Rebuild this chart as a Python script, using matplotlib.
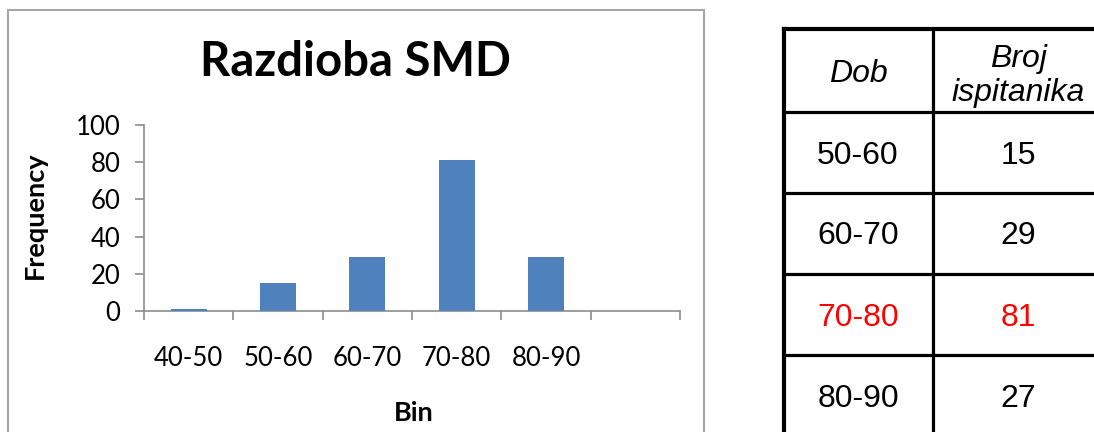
import matplotlib
matplotlib.use("Agg")
import matplotlib.pyplot as plt
import numpy as np

# ---- data ----
bins = ["40-50", "50-60", "60-70", "70-80", "80-90", ""]
frequency = [1, 15, 29, 81, 29, 0]
yticks = [0, 20, 40, 60, 80, 100]

table_header = ["Dob", "Broj\nispitanika"]
table_dob = ["50-60", "60-70", "70-80", "80-90"]
table_broj = [15, 29, 81, 27]
highlight_row = 2

W, H = 1094, 432
fig = plt.figure(figsize=(W / 100, H / 100), dpi=100)

# overlay in pixel coordinates for frame & table
ov = fig.add_axes([0, 0, 1, 1])
ov.set_xlim(0, W)
ov.set_ylim(H, 0)
ov.axis("off")

# chart frame
frame_col = "#a6a6a6"
ov.plot([8, 8, 704, 704], [440, 10, 10, 440], color=frame_col, lw=1.5, solid_joinstyle="miter")

# chart
bar_col = "#4f81bd"
axis_col = "#8c8c8c"
ax = fig.add_axes([144 / W, 1 - 311 / H, (680 - 144) / W, (311 - 125) / H])
x = np.arange(len(bins))
ax.bar(x, frequency, width=0.4, color=bar_col, zorder=3)
ax.set_xlim(-0.5, len(bins) - 0.5)
ax.set_ylim(0, 100)
for s in ["top", "right"]:
    ax.spines[s].set_visible(False)
for s in ["left", "bottom"]:
    ax.spines[s].set_color(axis_col)
    ax.spines[s].set_linewidth(1.2)
ax.set_yticks(yticks)
ax.set_yticklabels([str(v) for v in yticks], fontsize=18.5, family="Lato")
ax.tick_params(axis="y", length=6.5, width=1.2, color=axis_col, pad=10.5)
ax.set_xticks(np.arange(len(bins) + 1) - 0.5)
ax.set_xticklabels([])
ax.tick_params(axis="x", which="major", length=6.5, width=1.2, color=axis_col, direction="out")
ax.set_xticks(x, minor=True)
ax.set_xticklabels(bins, minor=True, fontsize=18.5, family="Lato")
ax.tick_params(axis="x", which="minor", length=0, pad=25)

fig.text(355 / W, 1 - 62 / H, "Razdioba SMD", ha="center", va="center",
         fontsize=34, fontweight="bold", family="Lato")
fig.text(35 / W, 1 - 215 / H, "Frequency", ha="center", va="center", rotation=90,
         fontsize=19.5, fontweight="bold", family="Lato")
fig.text(414 / W, 1 - 413 / H, "Bin", ha="center", va="center",
         fontsize=19.5, fontweight="bold", family="Lato")

# table
tx = [784, 933, 1100]
ty = [29, 112, 193, 274, 355, 440]
lw = 2.3
ov.plot([tx[0], tx[0]], [ty[0], ty[-1]], color="black", lw=3)
ov.plot([tx[1], tx[1]], [ty[0], ty[-1]], color="black", lw=lw)
for i, yy in enumerate(ty[:-1]):
    ov.plot([tx[0], tx[2]], [yy, yy], color="black", lw=3 if i == 0 else lw)

cx = [858, 1018]
tfont = dict(family="Liberation Sans", fontsize=23, ha="center", va="center")
ov.text(cx[0], 74, table_header[0], style="italic", **tfont)
ov.text(cx[1], 76, table_header[1], style="italic", linespacing=1.15, **tfont)
for i, (d, b) in enumerate(zip(table_dob, table_broj)):
    yc = (ty[i + 1] + ty[i + 2]) / 2 + 3
    if i == len(table_dob) - 1:
        yc = 399
    col = "#ff0000" if i == highlight_row else "black"
    ov.text(cx[0], yc, d, color=col, **tfont)
    ov.text(cx[1], yc, str(b), color=col, **tfont)

fig.savefig("out.png", dpi=100)
